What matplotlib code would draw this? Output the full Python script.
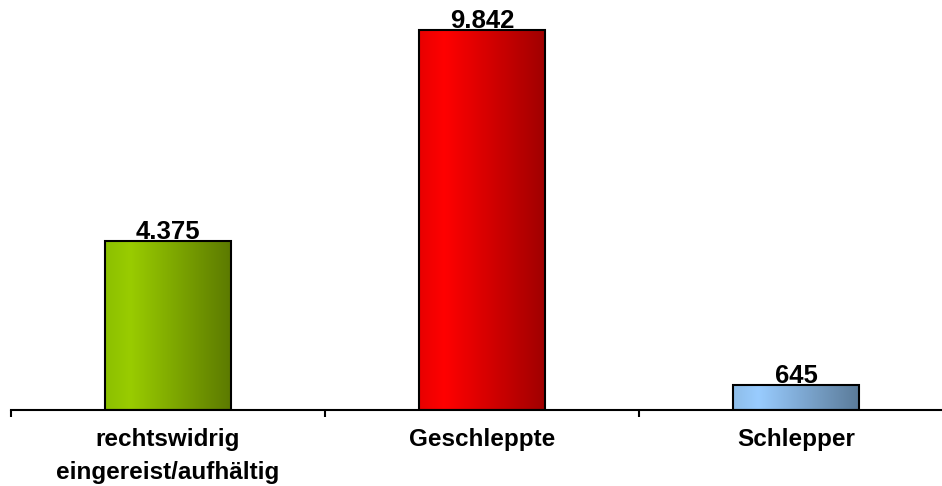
import numpy as np
import matplotlib.pyplot as plt
from matplotlib.colors import LinearSegmentedColormap

plt.rcParams['font.family'] = ['Liberation Sans', 'DejaVu Sans']

categories = ['rechtswidrig\neingereist/aufhältig', 'Geschleppte', 'Schlepper']
values = [4375, 9842, 645]
value_labels = ['4.375', '9.842', '645']
# left edge, highlight, right edge of each bar's gradient
gradients = [
    ['#8cc000', '#99cc00', '#5c7a00'],
    ['#e80000', '#ff0000', '#a00000'],
    ['#8ebde8', '#99ccff', '#5b7b99'],
]

fig = plt.figure(figsize=(9.42, 4.86), dpi=100)
ax = fig.add_axes([11 / 942, 76 / 486, 942 / 942, 410 / 486])

x = np.arange(len(categories))
width = 0.4
bars = ax.bar(x, values, width=width, facecolor='none', edgecolor='black',
              linewidth=1.5, zorder=3)

# horizontal gradient fill inside each bar
grad = np.linspace(0, 1, 256).reshape(1, -1)
for bar, cols in zip(bars, gradients):
    cmap = LinearSegmentedColormap.from_list('g', [(0, cols[0]), (0.2, cols[1]), (1, cols[2])])
    x0, y0 = bar.get_x(), bar.get_y()
    ax.imshow(grad, cmap=cmap, aspect='auto', zorder=2,
              extent=[x0, x0 + bar.get_width(), y0, y0 + bar.get_height()])

for xi, v, lab in zip(x, values, value_labels):
    ax.text(xi, v + 55, lab, ha='center', va='baseline', fontsize=18.5,
            fontweight='bold', zorder=4)

ax.set_xlim(-0.5, 2.5)
ax.set_ylim(0, 10619)

for s in ['top', 'right', 'left']:
    ax.spines[s].set_visible(False)
ax.spines['bottom'].set_linewidth(1.5)
ax.set_yticks([])

ax.set_xticks(x)
ax.set_xticklabels(categories, fontsize=17.5, fontweight='bold', linespacing=1.55)
ax.tick_params(axis='x', which='major', length=0, pad=13)
ax.set_xticks([-0.5, 0.5, 1.5, 2.5], minor=True)
ax.tick_params(axis='x', which='minor', length=5, width=1.5, direction='out')

fig.savefig('out.png', dpi=100)
